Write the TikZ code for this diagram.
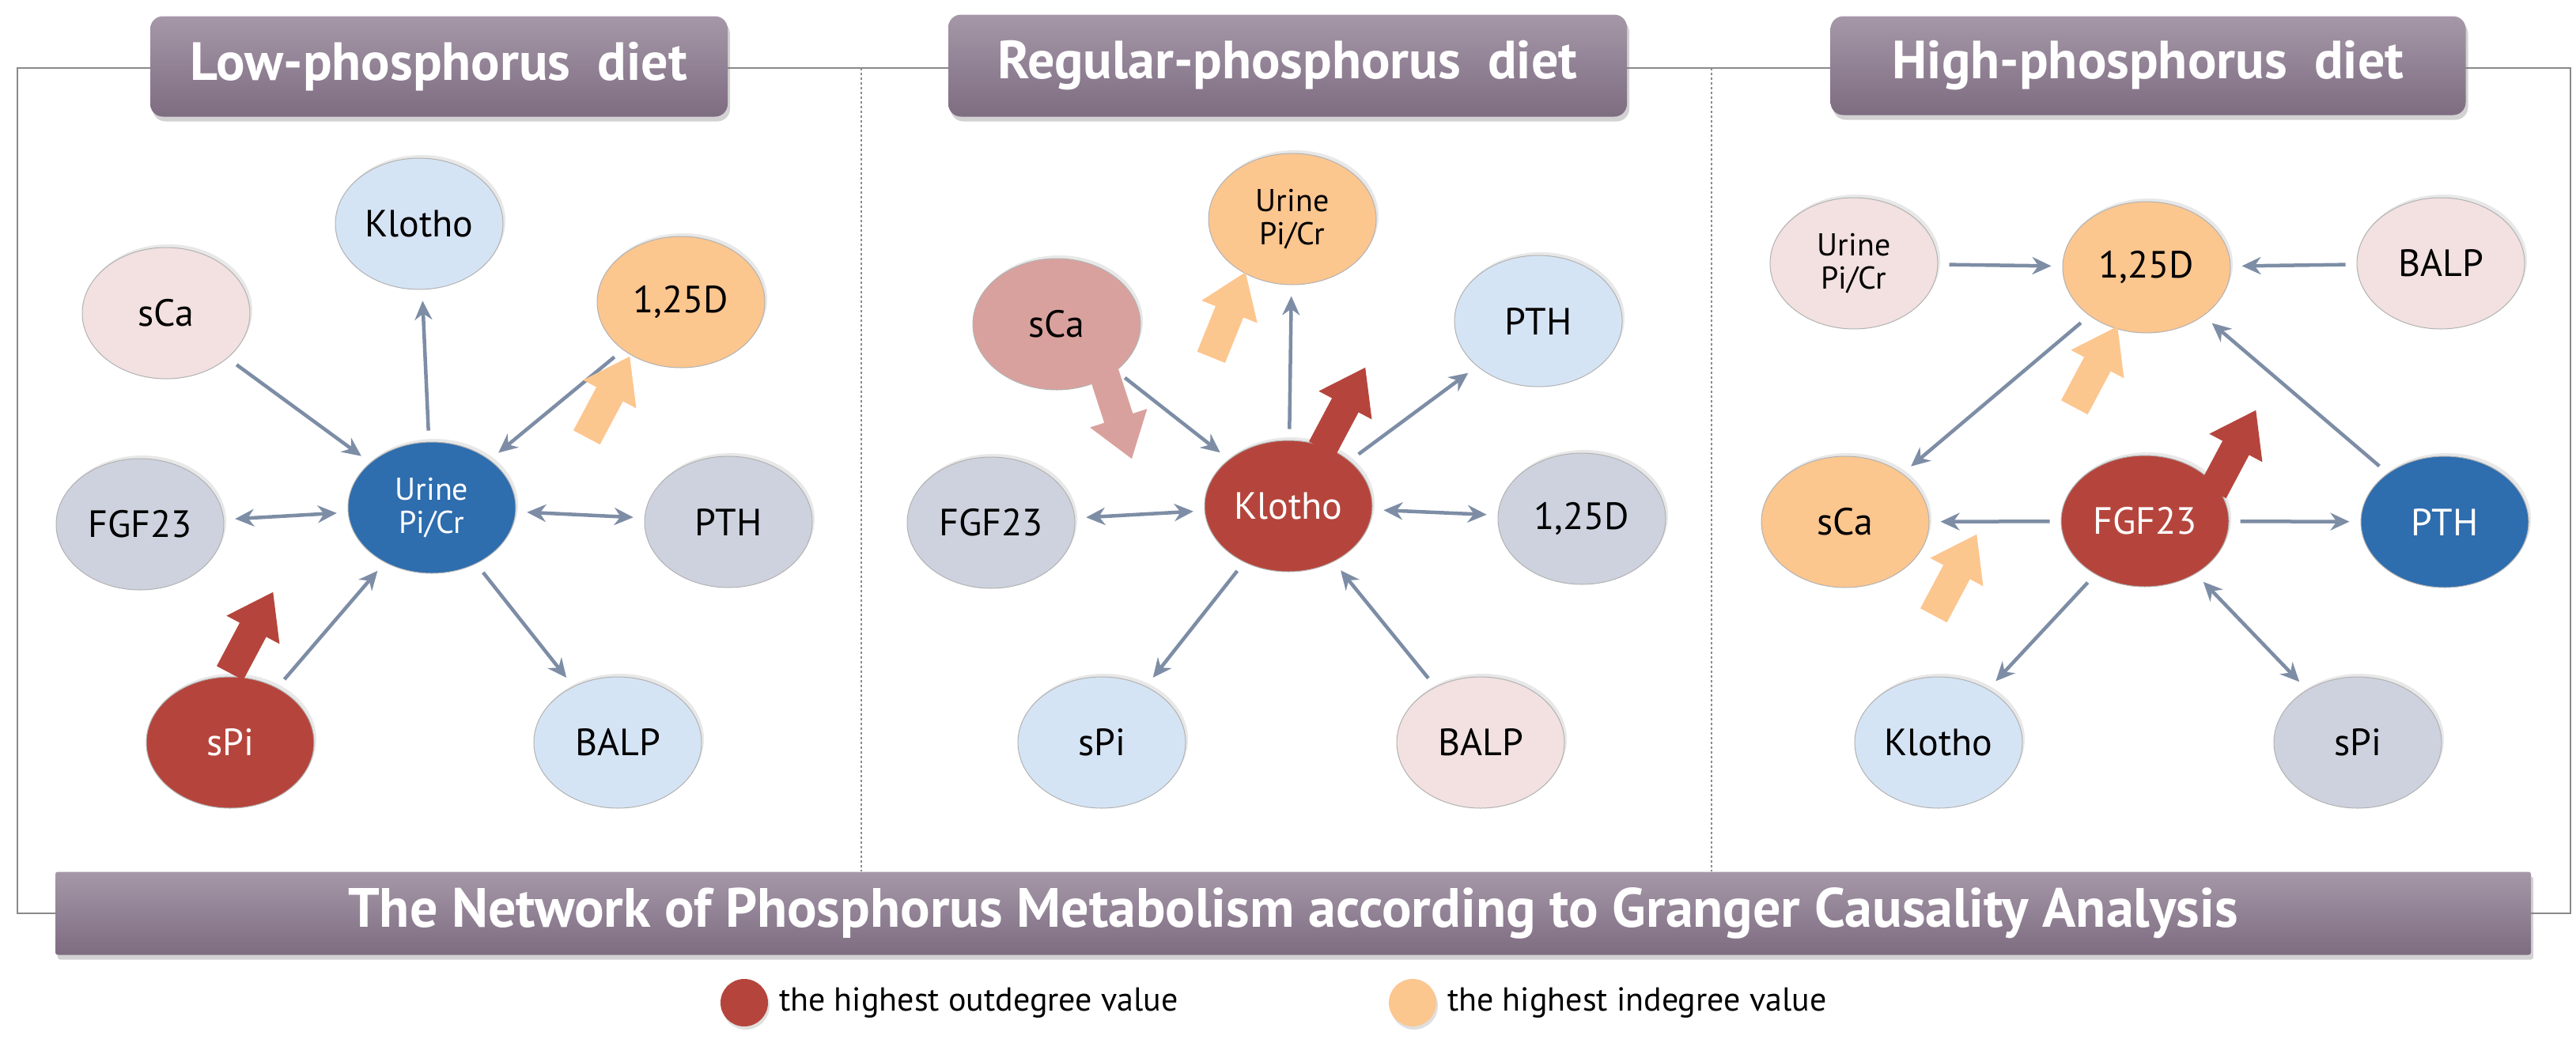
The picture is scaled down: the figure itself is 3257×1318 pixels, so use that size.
\documentclass[tikz,border=0pt]{standalone}
\usepackage{fontspec}
\setmainfont{PT Sans}
\usetikzlibrary{arrows.meta,shadows,shapes.geometric}
\definecolor{cred}{HTML}{B5453C}
\definecolor{cblue}{HTML}{2E6DAE}
\definecolor{corange}{HTML}{FCC68F}
\definecolor{clblue}{HTML}{D5E4F4}
\definecolor{cpink}{HTML}{F2E1E0}
\definecolor{cgrey}{HTML}{CDD2DE}
\definecolor{csalmon}{HTML}{D9A19D}
\definecolor{cedge}{HTML}{7D8DA5}
\definecolor{cpurpT}{HTML}{A597A8}
\definecolor{cpurpB}{HTML}{7E6C81}
\definecolor{cframe}{HTML}{8A8A8A}
\tikzset{
  bub/.style={ellipse, minimum width=212pt, minimum height=166pt, draw=gray!60, line width=1pt,
     font=\fontsize{48}{50}\selectfont, align=center, inner sep=0pt,
     drop shadow={opacity=0.18, shadow xshift=3pt, shadow yshift=4pt}},
  rednode/.style={bub, fill=cred, text=white},
  bluenode/.style={bub, fill=cblue, text=white},
  ornode/.style={bub, fill=corange},
  lbnode/.style={bub, fill=clblue},
  pknode/.style={bub, fill=cpink},
  grnode/.style={bub, fill=cgrey},
  sanode/.style={bub, fill=csalmon},
  lnk/.style={draw=cedge, line width=4.5pt, -{Stealth[length=24pt,width=22pt]}, shorten >=14pt, shorten <=14pt},
  blnk/.style={lnk, {Stealth[length=24pt,width=22pt]}-{Stealth[length=24pt,width=22pt]}},
  header/.style={rounded corners=16pt, top color=cpurpT, bottom color=cpurpB, draw=none,
     text=white, font=\bfseries\fontsize{68}{72}\selectfont, inner sep=0pt,
     drop shadow={opacity=0.35, shadow xshift=3pt, shadow yshift=-6pt}},
}
\newcommand{\blockarr}[4]{%
  \begin{scope}[shift={(#1,#2)}, rotate=#3]
    \fill[#4] (-58,-19) -- (4,-19) -- (4,-38) -- (58,0) -- (4,38) -- (4,19) -- (-58,19) -- cycle;
  \end{scope}}
\begin{document}
\begin{tikzpicture}[x=1pt,y=-1pt]
\useasboundingbox (0,0) rectangle (3257,1318);
\fill[white] (0,0) rectangle (3257,1318);
% frame
\draw[cframe, line width=2.5pt] (22,86) rectangle (3250,1155);
\draw[cframe, line width=1.5pt, dashed] (1089,86) -- (1089,1102);
\draw[cframe, line width=1.5pt, dashed] (2164,86) -- (2164,1102);
% headers
\node[header, minimum width=730pt, minimum height=127pt] (h1) at (555,84) {Low-phosphorus\ \ diet};
\node[header, minimum width=858pt, minimum height=129pt] (h2) at (1628,83) {Regular-phosphorus\ \ diet};
\node[header, minimum width=803pt, minimum height=125pt] (h3) at (2716,83) {High-phosphorus\ \ diet};
% banner
\node[header, rounded corners=3pt, minimum width=3130pt, minimum height=105pt, font=\bfseries\fontsize{70}{74}\selectfont] (ban) at (1635,1155) {The Network of Phosphorus Metabolism according to Granger Causality Analysis};
% legend
\node[circle, fill=cred, minimum size=60pt, inner sep=0pt, drop shadow={opacity=0.25, shadow xshift=2pt, shadow yshift=-4pt}] (lg1) at (941,1268) {};
\node[anchor=west, font=\fontsize{42}{44}\selectfont, inner sep=0pt] (lt1) at (985,1268) {the highest outdegree value};
\node[circle, fill=corange, minimum size=60pt, inner sep=0pt, drop shadow={opacity=0.25, shadow xshift=2pt, shadow yshift=-4pt}] (lg2) at (1786,1268) {};
\node[anchor=west, font=\fontsize{42}{44}\selectfont, inner sep=0pt] (lt2) at (1830,1268) {the highest indegree value};

% ---------- Panel 1 ----------
\node[lbnode] (aK) at (530,283) {Klotho};
\node[pknode] (aS) at (210,396) {sCa};
\node[ornode] (aD) at (861,382) {1,25D};
\node[grnode] (aF) at (177,663) {FGF23};
\node[bluenode, font=\fontsize{40}{42}\selectfont] (aU) at (546,642) {Urine\\Pi/Cr};
\node[grnode] (aP) at (921,660) {PTH};
\node[rednode] (aSp) at (291,939) {sPi};
\node[lbnode] (aB) at (781,939) {BALP};
\draw[lnk] (aS) -- (aU);
\draw[lnk] (aU) -- (aK);
\draw[lnk] (aD) -- (aU);
\draw[blnk] (aF) -- (aU);
\draw[blnk] (aU) -- (aP);
\draw[lnk] (aSp) -- (aU);
\draw[lnk] (aU) -- (aB);
\blockarr{769}{502}{62}{corange}
\blockarr{318}{800}{62}{cred}

% ---------- Panel 2 ----------
\node[ornode, font=\fontsize{40}{42}\selectfont] (bU) at (1634,277) {Urine\\Pi/Cr};
\node[sanode] (bS) at (1336,410) {sCa};
\node[lbnode] (bP) at (1945,406) {PTH};
\node[rednode] (bK) at (1629,640) {Klotho};
\node[grnode] (bF) at (1253,661) {FGF23};
\node[grnode] (bD) at (2000,656) {1,25D};
\node[lbnode] (bSp) at (1393,939) {sPi};
\node[pknode] (bB) at (1872,939) {BALP};
\draw[lnk] (bS) -- (bK);
\draw[lnk] (bK) -- (bU);
\draw[lnk] (bK) -- (bP);
\draw[blnk] (bF) -- (bK);
\draw[blnk] (bK) -- (bD);
\draw[lnk] (bK) -- (bSp);
\draw[lnk] (bB) -- (bK);
\blockarr{1553}{398}{68}{corange}
\blockarr{1413}{525}{-72}{csalmon}
\blockarr{1699}{516}{62}{cred}

% ---------- Panel 3 ----------
\node[pknode, font=\fontsize{40}{42}\selectfont] (cU) at (2344,333) {Urine\\Pi/Cr};
\node[ornode] (cD) at (2714,338) {1,25D};
\node[pknode] (cB) at (3086,333) {BALP};
\node[ornode] (cS) at (2333,660) {sCa};
\node[rednode] (cF) at (2712,659) {FGF23};
\node[bluenode] (cP) at (3091,660) {PTH};
\node[lbnode] (cK) at (2451,939) {Klotho};
\node[grnode] (cSp) at (2981,939) {sPi};
\draw[lnk] (cU) -- (cD);
\draw[lnk] (cB) -- (cD);
\draw[lnk] (cP) -- (cD);
\draw[lnk] (cD) -- (cS);
\draw[lnk] (cF) -- (cS);
\draw[lnk] (cF) -- (cP);
\draw[lnk] (cF) -- (cK);
\draw[blnk] (cF) -- (cSp);
\blockarr{2650}{464}{62}{corange}
\blockarr{2825}{570}{62}{cred}
\blockarr{2472}{727}{62}{corange}
\end{tikzpicture}
\end{document}
